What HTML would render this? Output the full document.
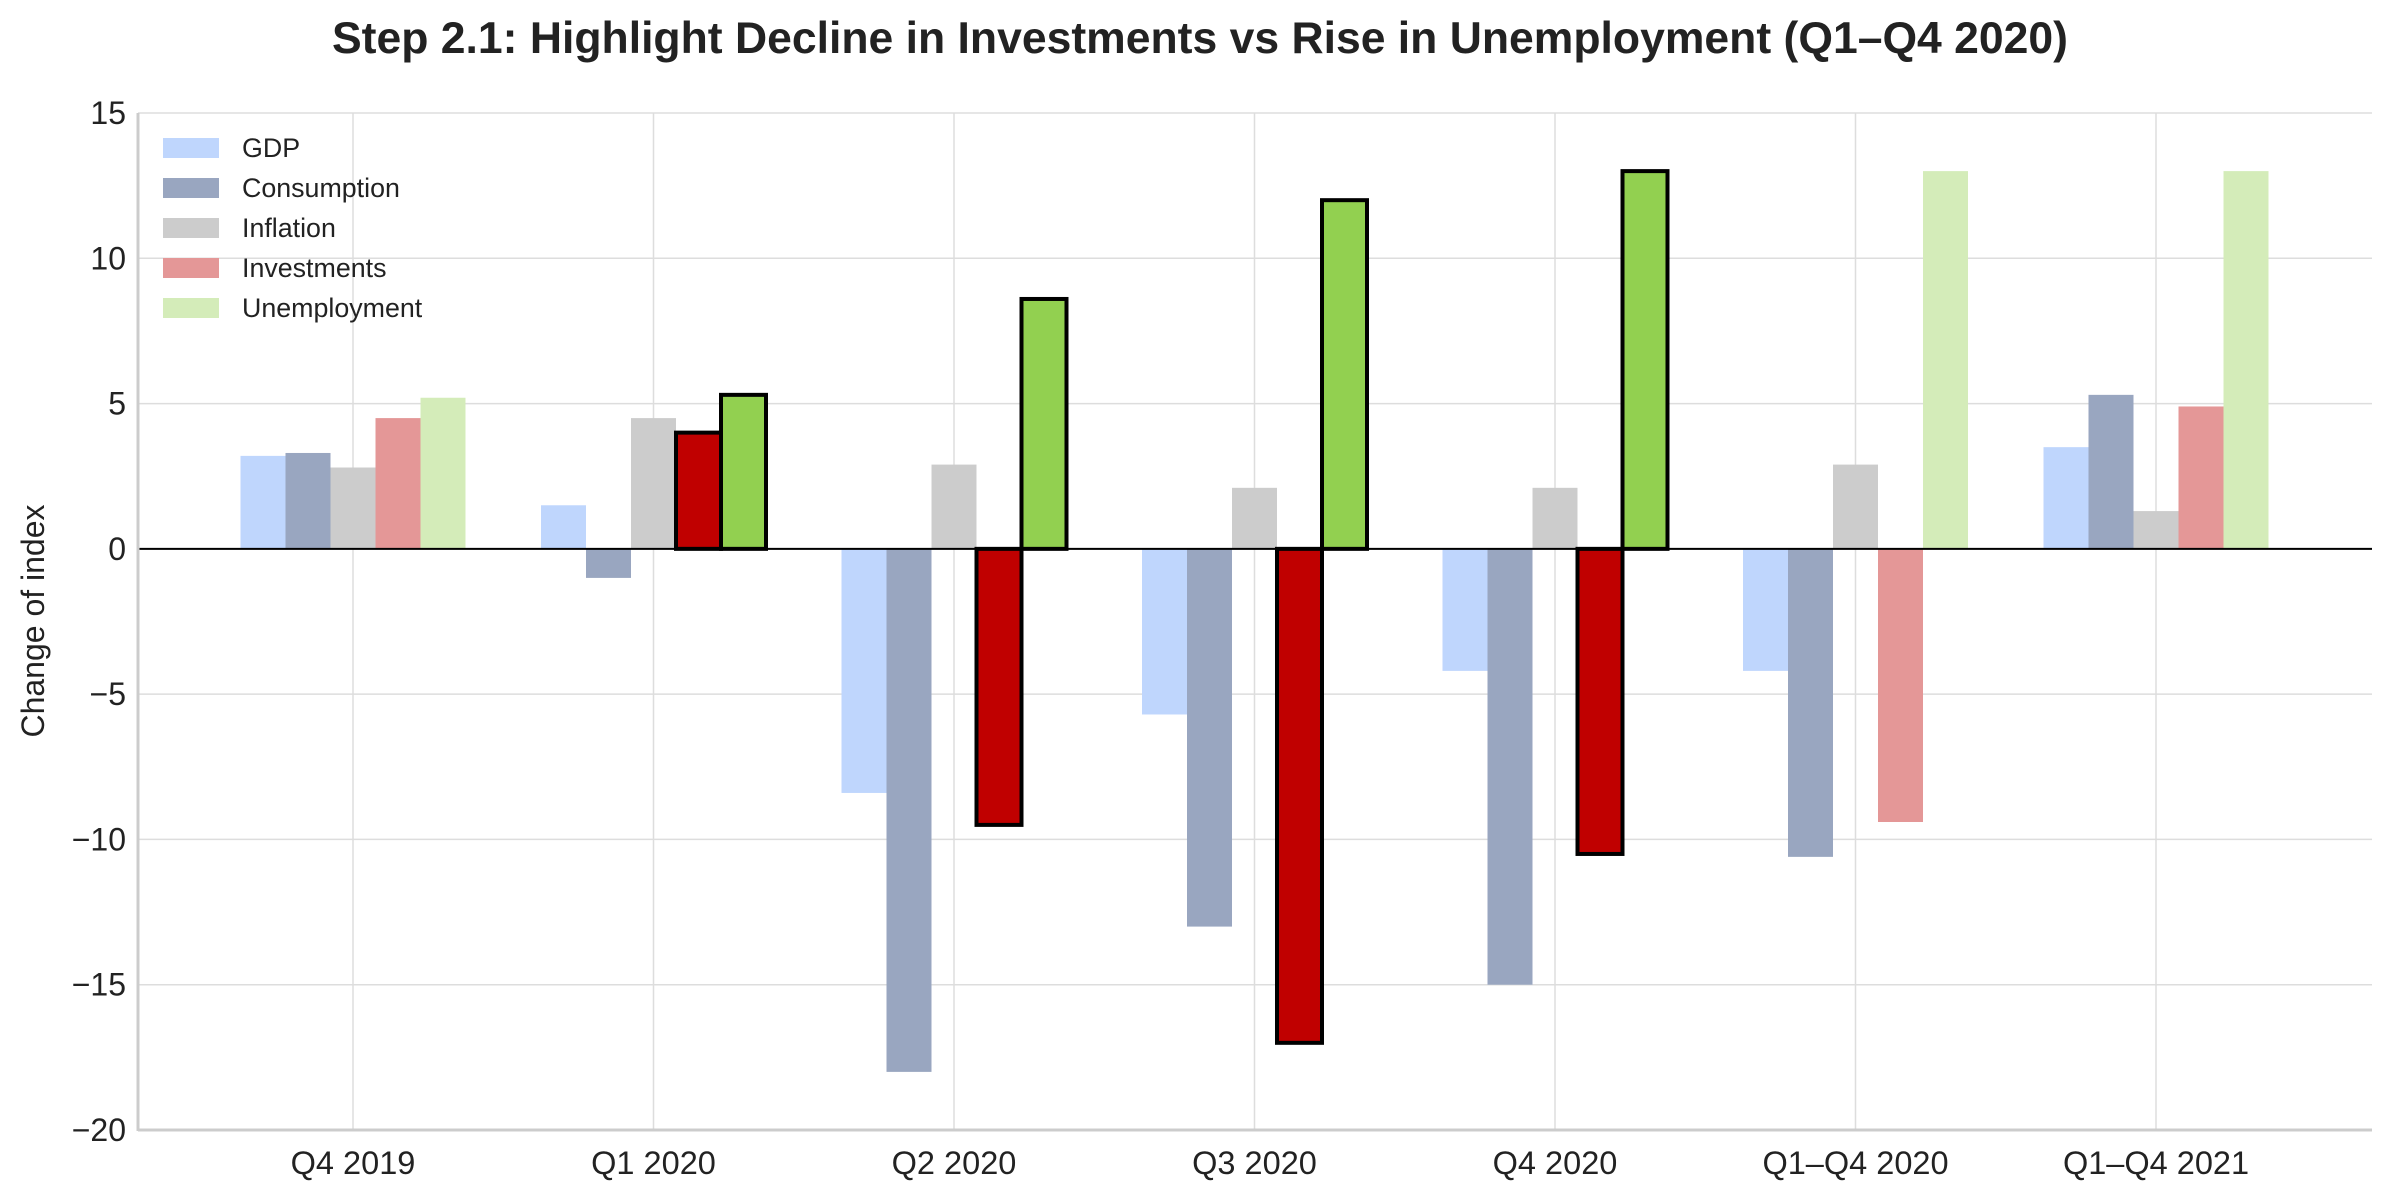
<!DOCTYPE html>
<html><head><meta charset="utf-8"><style>
body{margin:0;background:#fff;}
svg{display:block;font-family:"Liberation Sans",sans-serif;}
</style></head><body>
<svg id="chart" width="2400" height="1200" viewBox="0 0 2400 1200">
<text x="1200" y="53" text-anchor="middle" font-size="44.5" font-weight="bold" fill="#222">Step 2.1: Highlight Decline in Investments vs Rise in Unemployment (Q1–Q4 2020)</text>
<text transform="translate(44,621) rotate(-90)" text-anchor="middle" font-size="32" fill="#222">Change of index</text>
<g id="grid"></g><g id="bars"></g><g id="axes"></g><g id="legend"></g>
</svg>
<script>
const categories=["Q4 2019","Q1 2020","Q2 2020","Q3 2020","Q4 2020","Q1–Q4 2020","Q1–Q4 2021"];
const seriesNames=["GDP","Consumption","Inflation","Investments","Unemployment"];
const gdp=[3.2,1.5,-8.4,-5.7,-4.2,-4.2,3.5];
const consumption=[3.3,-1.0,-18,-13,-15,-10.6,5.3];
const inflation=[2.8,4.5,2.9,2.1,2.1,2.9,1.3];
const investments=[4.5,4.0,-9.5,-17,-10.5,-9.4,4.9];
const unemployment=[5.2,5.3,8.6,12,13,13,13];
const yTicks=[15,10,5,0,-5,-10,-15,-20];
const highlighted=[1,2,3,4];
const series=[gdp,consumption,inflation,investments,unemployment];
const fadedColors=["#bfd6fd","#99a6c0","#cccccc","#e49797","#d4ecb9"];
const strongColors={3:"#c00000",4:"#92d050"};
const L=138,R=2372,T=113,B=1130,yMin=-20,yMax=15;
const y=v=>T+(yMax-v)/(yMax-yMin)*(B-T);
const step=(2156-353)/6;
const xc=i=>353+i*step;
const bw=45;
const NS="http://www.w3.org/2000/svg";
function mk(tag,attrs,parent){const e=document.createElementNS(NS,tag);for(const k in attrs)e.setAttribute(k,attrs[k]);parent.appendChild(e);return e;}
const grid=document.getElementById('grid'),bars=document.getElementById('bars'),axes=document.getElementById('axes'),leg=document.getElementById('legend');
yTicks.forEach(t=>{
  const g=mk('line',{x1:L,x2:R,y1:y(t),y2:y(t),stroke:'#dddddd','stroke-width':1.5},grid);
  
  
  const tx=mk('text',{x:L-12,y:y(t)+11,'text-anchor':'end','font-size':32,fill:'#222'},axes);
  tx.textContent=String(t).replace('-','−');
  
  
});
categories.forEach((c,i)=>{
  const g=mk('line',{x1:xc(i),x2:xc(i),y1:T,y2:B,stroke:'#dddddd','stroke-width':1.5},grid);
  
  
  const tx=mk('text',{x:xc(i),y:B+44,'text-anchor':'middle','font-size':32.5,fill:'#222'},axes);
  tx.textContent=c;
  
  
});
series.forEach((vals,s)=>{
  vals.forEach((v,i)=>{
    const x=xc(i)-2.5*bw+s*bw;
    const top=Math.min(y(v),y(0)),h=Math.abs(y(v)-y(0));
    const hl=(s===3||s===4)&&highlighted.includes(i);
    const attrs={x:x,y:top,width:bw,height:h,fill:hl?strongColors[s]:fadedColors[s]};
    if(hl){attrs.stroke='#000';attrs['stroke-width']=4;}
    const r=mk('rect',attrs,bars);
    
    
  });
});
const z=mk('line',{x1:L,x2:R,y1:y(0),y2:y(0),stroke:'#000','stroke-width':2},axes);


const ls=mk('line',{x1:L,x2:L,y1:T,y2:B+1,stroke:'#cccccc','stroke-width':3},axes);


const bs=mk('line',{x1:L,x2:R,y1:B,y2:B,stroke:'#cccccc','stroke-width':3},axes);


seriesNames.forEach((n,s)=>{
  const cy=148+s*40;
  const r=mk('rect',{x:163,y:cy-10,width:56,height:20,fill:fadedColors[s]},leg);
  
  
  const t=mk('text',{x:242,y:cy+9,'font-size':26.8,fill:'#222'},leg);
  t.textContent=n;
  
  
});
</script>
</body></html>
